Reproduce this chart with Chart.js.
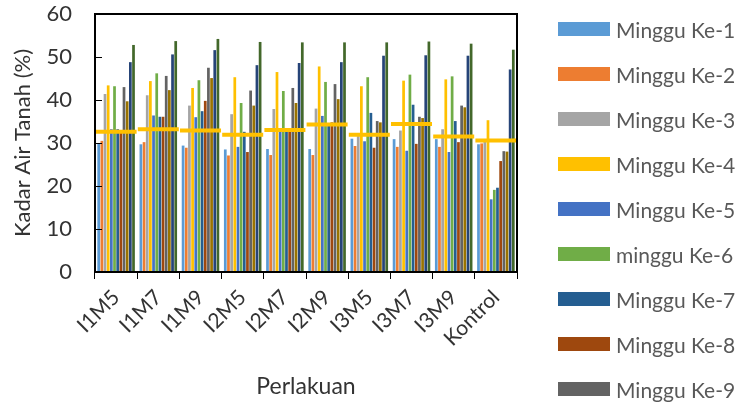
<!DOCTYPE html>
<html>
<head>
<meta charset="utf-8">
<script src="https://cdn.jsdelivr.net/npm/chart.js@4/dist/chart.umd.min.js"></script>
<style>
  html, body { margin: 0; padding: 0; background: #fff; overflow: hidden; }
  #wrap { position: relative; width: 740px; height: 403px; overflow: hidden; }
  #c { position: absolute; left: 0; top: 0; }
  #legend { position: absolute; left: 558px; top: 0; width: 182px; height: 403px; overflow: hidden;
            font-family: Lato, "Liberation Sans", sans-serif; font-size: 21px; color: #595959; }
  .item { position: absolute; left: 0; height: 26px; display: flex; align-items: center; white-space: nowrap; }
  .sw { width: 52px; height: 14px; margin-right: 6px; flex: none; }
</style>
</head>
<body>
<div id="wrap">
  <canvas id="c" width="740" height="403"></canvas>
  <div id="legend"></div>
</div>
<script>
// Treatments on the x axis
const categories = ['I1M5', 'I1M7', 'I1M9', 'I2M5', 'I2M7', 'I2M9', 'I3M5', 'I3M7', 'I3M9', 'Kontrol'];

// Weekly soil water content (%) per treatment
const weekLabels = ['Minggu Ke-1', 'Minggu Ke-2', 'Minggu Ke-3', 'Minggu Ke-4', 'Minggu Ke-5', 'minggu Ke-6',
                    'Minggu Ke-7', 'Minggu Ke-8', 'Minggu Ke-9', 'Minggu Ke-10', 'Minggu Ke-11', 'Minggu Ke-12'];
const week1  = [29.9, 29.7, 29.4, 28.5, 28.6, 28.6, 31.0, 30.9, 30.9, 29.7];
const week2  = [30.5, 30.2, 28.9, 27.1, 27.2, 27.2, 29.3, 29.1, 29.1, 29.9];
const week3  = [41.4, 41.1, 38.7, 36.7, 37.9, 38.0, 31.6, 32.9, 33.2, 30.3];
const week4  = [43.4, 44.4, 42.8, 45.3, 46.5, 47.8, 43.2, 44.5, 44.8, 35.3];
const week5  = [33.2, 36.4, 36.0, 29.1, 32.6, 36.3, 30.4, 28.2, 27.9, 16.9];
const week6  = [43.2, 46.2, 44.6, 39.3, 42.1, 44.2, 45.3, 45.9, 45.5, 19.1];
const week7  = [33.2, 36.1, 37.4, 32.6, 32.6, 34.2, 37.0, 38.9, 35.1, 19.6];
const week8  = [32.8, 36.1, 39.8, 27.9, 32.6, 34.8, 28.9, 29.8, 30.2, 25.8];
const week9  = [43.0, 45.6, 47.5, 42.2, 42.8, 43.7, 35.1, 36.1, 38.7, 28.1];
const week10 = [39.7, 42.3, 45.1, 38.7, 39.3, 40.2, 34.8, 35.8, 38.3, 28.0];
const week11 = [48.8, 50.6, 51.6, 48.1, 48.6, 48.8, 50.3, 50.4, 50.3, 47.1];
const week12 = [52.8, 53.7, 54.2, 53.5, 53.4, 53.4, 53.4, 53.6, 53.1, 51.7];

// Horizontal marker level per treatment
const levelLine = [32.6, 33.2, 32.9, 31.9, 33.0, 34.3, 31.9, 34.4, 31.5, 30.6];

// Y axis ticks
const yTicks = [0, 10, 20, 30, 40, 50, 60];

const weekValues = [week1, week2, week3, week4, week5, week6, week7, week8, week9, week10, week11, week12];
const weekColors = ['#5B9BD5', '#ED7D31', '#A5A5A5', '#FFC000', '#4472C4', '#70AD47',
                    '#255E91', '#9E480E', '#636363', '#997300', '#264478', '#43682B'];

const FONT = 'Lato, "Liberation Sans", sans-serif';
const AXIS_TEXT = '#333333';

const datasets = weekValues.map((vals, i) => ({
  type: 'bar',
  label: weekLabels[i],
  data: vals,
  backgroundColor: weekColors[i],
  borderWidth: 0,
  categoryPercentage: 0.9,
  barPercentage: 0.86,
  order: 1
}));
datasets.push({
  type: 'line',
  label: 'Garis',
  data: levelLine,
  showLine: false,
  pointStyle: 'line',
  pointRadius: 20.5,
  pointHoverRadius: 20.5,
  pointBorderWidth: 4,
  pointBorderColor: '#FFC000',
  pointBackgroundColor: '#FFC000',
  borderColor: '#FFC000',
  order: 0
});

// Black frame round the plot area plus inward tick marks on the value axis
const framePlugin = {
  id: 'frame',
  afterDatasetsDraw(chart) {
    const { ctx, chartArea: a, scales } = chart;
    ctx.save();
    ctx.strokeStyle = '#000';
    ctx.lineWidth = 1;
    const y = scales.y;
    y.ticks.forEach(t => {
      const py = Math.round(y.getPixelForValue(t.value)) + 0.5;
      ctx.beginPath();
      ctx.moveTo(a.left, py);
      ctx.lineTo(a.left + 7, py);
      ctx.stroke();
    });
    ctx.lineWidth = 2;
    ctx.strokeRect(a.left, a.top, a.right - a.left, a.bottom - a.top);
    ctx.restore();
  }
};

function noEdgePadding(scale) {
  scale.paddingTop = 0;
  scale.paddingBottom = 0;
  scale.paddingLeft = 0;
  scale.paddingRight = 0;
}

const chart = new Chart(document.getElementById('c'), {
  data: { labels: categories, datasets },
  options: {
    responsive: false,
    animation: false,
    events: [],
    layout: { autoPadding: false, padding: { top: 14, right: 223, left: 0, bottom: 0 } },
    plugins: { legend: { display: false }, tooltip: { enabled: false } },
    scales: {
      x: {
        grid: { display: true, drawOnChartArea: false, offset: true, color: '#000', tickLength: 7, tickWidth: 1 },
        border: { display: false },
        ticks: { color: AXIS_TEXT, font: { family: FONT, size: 21 }, minRotation: 45, maxRotation: 45, padding: 6, autoSkip: false },
        title: { display: true, text: 'Perlakuan', color: AXIS_TEXT, font: { family: FONT, size: 23 }, padding: { top: 0, bottom: 3 } },
        afterFit(scale) { scale.height = 131; noEdgePadding(scale); }
      },
      y: {
        min: 0, max: 60,
        afterBuildTicks(scale) { scale.ticks = yTicks.map(v => ({ value: v })); },
        grid: { display: false, drawTicks: false },
        border: { display: false },
        ticks: { color: AXIS_TEXT, font: { family: FONT, size: 22 }, padding: 23 },
        title: { display: true, text: 'Kadar Air Tanah (%)', color: AXIS_TEXT, font: { family: FONT, size: 22 }, padding: { top: 10, bottom: 0 } },
        afterFit(scale) { scale.width = 95; noEdgePadding(scale); }
      }
    }
  },
  plugins: [framePlugin]
});

// Legend built from the chart's own datasets
const legend = document.getElementById('legend');
chart.data.datasets.slice(0, 12).forEach((ds, i) => {
  const item = document.createElement('div');
  item.className = 'item';
  item.style.top = (29 + i * 45 - 13) + 'px';
  const sw = document.createElement('span');
  sw.className = 'sw';
  sw.style.background = ds.backgroundColor;
  const tx = document.createElement('span');
  tx.textContent = ds.label;
  item.appendChild(sw);
  item.appendChild(tx);
  legend.appendChild(item);
});
</script>
</body>
</html>
